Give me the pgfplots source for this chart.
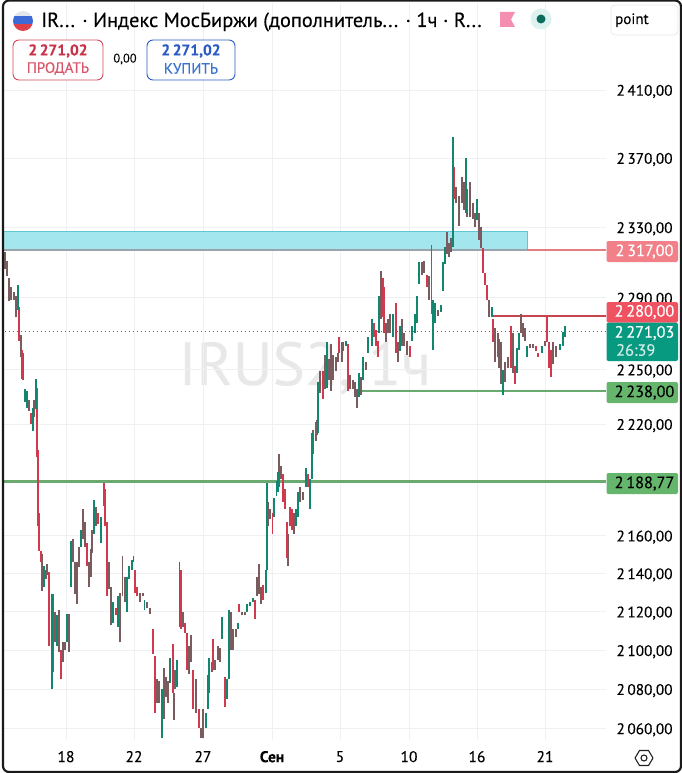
\documentclass[border=0pt]{standalone}
\usepackage{pgfplots}
\usepackage{pgfplotstable}
\usepackage{fontspec}
\pgfplotsset{compat=1.18}
\setmainfont[FakeBold=0.2]{PT Sans}
\newcommand\fs[1]{\fontsize{#1}{#1}\selectfont}
\definecolor{cg}{HTML}{12866F}
\definecolor{cr}{HTML}{CF3A4E}
\definecolor{cb}{HTML}{7A5C5E}
\definecolor{gridc}{HTML}{EEF0F3}
\definecolor{boxf}{HTML}{A4E6EE}
\definecolor{boxd}{HTML}{5FC6D6}
\definecolor{l1}{HTML}{9AA4AD}
\definecolor{l2}{HTML}{E57C82}
\definecolor{l3}{HTML}{C8444F}
\definecolor{l4}{HTML}{6AA96F}
\definecolor{l5}{HTML}{2F7F73}
\definecolor{t1}{HTML}{F28089}
\definecolor{t2}{HTML}{EF5361}
\definecolor{t3}{HTML}{089981}
\definecolor{t4}{HTML}{66B56C}
\definecolor{f1}{HTML}{E1E5EC}
\definecolor{f2}{HTML}{3D6AD6}
\definecolor{f3}{HTML}{E0404A}
\definecolor{pk}{HTML}{F48FB1}
\definecolor{d1}{HTML}{DDF1EE}
\definecolor{d2}{HTML}{0B6B5C}
\definecolor{bx}{HTML}{E6E8EC}
\definecolor{s1}{HTML}{CF4A5C}
\definecolor{s2}{HTML}{C8334A}
\definecolor{s3}{HTML}{D9566A}
\definecolor{b1}{HTML}{2D5BC5}
\definecolor{b2}{HTML}{3A73D0}
\definecolor{ink}{HTML}{222222}
\definecolor{fr}{HTML}{1A1A1A}
\pgfplotstableread{
x lo hi
5 2306 2316
7 2302 2311
9 2288 2301
11 2289 2296
14 2289 2293
16 2279 2291
21 2257 2269
23 2244 2259
29 2227 2233
34 2224 2233
42 2131 2150
46 2137 2142
47 2139 2145
53 2089 2129
55 2104 2120
59 2099 2121
63 2094 2104
65 2100 2104
69 2099 2119
73 2146 2158
75 2129 2146
77 2124 2146
79 2143.5 2154
83 2158 2174
85 2154 2167
89 2133 2146
91 2138 2153
92 2151 2163
96 2165 2175
109 2132 2146
111 2113 2133
120 2104 2130
122.5 2128 2149
125 2125 2138
140 2125 2130
143 2128 2130
147 2122 2125
150 2119 2122
157 2073 2085
159 2073 2084
164 2065 2091
166 2076 2086
168 2073 2084
174 2064 2078
175 2080 2090
183 2112 2120
189 2088 2102
191 2094 2108
196 2068 2085
201 2055 2060
203 2055 2070
212 2089 2094
215 2090 2095
218 2095 2102
220 2094 2101
231 2100 2120
233 2100 2111
236 2107 2111
242 2118 2120
245 2118 2120
257 2128 2138
259 2129 2145
261 2124 2133
268 2165 2178
270 2169 2174
279 2186 2204
281 2190 2197
288 2144 2161
294 2161 2172
300 2178 2186
303 2179 2183
313 2204 2217
316 2211 2221
317 2214 2222
320 2237 2249
325 2239 2258
329 2244 2256
331 2238 2264
333 2244 2258
336 2249 2257
338 2254 2259
342 2254 2265
343 2260 2265
350 2239 2247
353 2239 2244
355 2235 2243
357 2229 2239
361 2236 2246
366 2250 2254
381 2278 2305
386 2265 2276
388 2270 2278
390 2270 2281
398 2254 2265
402 2263 2278
404 2263 2270
407 2258 2266
422 2303 2310
424 2304 2311
429 2289 2302
438 2280 2283
447 2315 2327
449 2313 2321
451 2316 2324
456 2344 2353
459 2331 2348
462 2344 2359
464 2340 2356
467 2336 2352
470 2336 2356
473 2335 2344
475 2330 2338
479 2323 2338
481 2318 2330
489 2279 2289
495 2254 2273
498 2257 2270
499 2251 2267
501 2242 2265
505 2243 2254
508 2251 2257
513 2248 2270
521 2270 2281
523 2268 2276
525 2266 2273
530 2262 2264
533 2262 2264
545 2263 2266
553 2253 2265
556 2257 2263
}\tbrown
\pgfplotstableread{
x lo hi
19 2266 2285
22 2245 2261
31 2220 2226
37 2202 2240
37.7 2179 2206
38.3 2165 2180
39 2152 2172
41 2146 2152
49 2102 2141
61 2085 2100
87 2144 2156
98 2166 2172
104 2176 2188
105 2165 2185
107 2128 2167
116 2118 2122
135 2130 2142
137 2128 2133
153 2098 2111
155 2068 2097
172.7 2078 2103
181 2111 2142
185 2109 2114
187 2090 2109
193 2070 2090
199 2060 2070
213 2090 2106
225 2071 2086
239 2120 2124
255 2116 2126
263 2126 2134
272.5 2161 2172
283 2178 2193
285 2174 2185
287 2148 2167
290 2165 2175
292 2163 2174
308 2186 2193
323 2234 2249
339 2259 2268
348 2238 2264
374 2268 2276
376 2263 2272
378 2257 2266
383 2279 2301
384 2270 2296
396 2259 2287
410 2257 2263
427 2296 2303
431.5 2281 2320
454 2346 2365
483 2304 2318
485 2297 2304
487 2289 2297
493 2265 2278
511 2251 2274
515 2242 2252
536 2260 2263
538 2257 2259
547 2265 2279
549 2251 2265
551 2246 2261
}\tbred
\pgfplotstableread{
x lo hi
18 2283 2297
25 2232 2239
27 2229 2238
33 2216 2229
36 2228 2245
44 2133 2144
52 2080 2129
57 2102 2118
67 2104 2119
71 2133 2157
81 2154 2163
94 2161 2179
101 2156 2170
113 2114 2125
118 2112 2128
127 2120 2138
129 2137 2144
132 2142 2147
133.5 2146 2149
144.5 2121 2126
162 2055 2080
170 2083 2096
177 2081 2095
179.5 2112 2146
206 2060 2068
208 2070 2087
209 2078 2096
222 2106 2117
227 2075 2085
229 2085 2121
238 2111 2114
247 2120 2124
250 2123 2125
253 2125 2127
266 2130 2142
266.7 2142 2166
267 2166 2188
274 2170 2180
276.5 2181 2189
278 2183 2194
296 2165 2174
298 2170 2183
306 2186 2196
310 2174 2190
312 2190 2215
318 2215 2243
327 2240 2265
346 2263 2266
359 2235 2248
363 2244 2257
368 2259 2268
372 2263 2278
379 2270 2291
393 2268 2281
400 2260 2274
412 2266 2274
415 2270 2281
417 2276 2291
419 2298 2310
433 2261 2289
435 2276 2287
441 2282 2286
443 2294 2310
445 2309 2319
453 2319 2382.5
466 2338 2370
477 2334 2346
492 2279 2285
503 2236 2250
517 2248 2262
519 2261 2270
527 2257 2263
542 2259 2263
560 2261 2264
563 2263 2271
565 2268 2274
}\tgreen
% one vertical high-low segment per row of a table, with a jump between rows
\newcommand\buildstream[2]{%
  \gdef#2{}%
  \pgfplotstablegetrowsof{#1}\pgfmathtruncatemacro\lastrow{\pgfplotsretval-1}%
  \pgfplotsforeachungrouped \i in {0,...,\lastrow}{%
    \pgfplotstablegetelem{\i}{x}\of{#1}\let\vx\pgfplotsretval
    \pgfplotstablegetelem{\i}{lo}\of{#1}\let\vlo\pgfplotsretval
    \pgfplotstablegetelem{\i}{hi}\of{#1}\let\vhi\pgfplotsretval
    \xdef#2{#2(\vx,\vlo)(\vx,\vhi)(\vx,nan)}%
  }}
\buildstream{\tbrown}{\sbrown}
\buildstream{\tbred}{\sred}
\buildstream{\tgreen}{\sgreen}
\newcommand\plotstream[2]{\edef\temp{\noexpand\addplot[#1,line width=1.9pt,unbounded coords=jump,forget plot] coordinates {#2};}\temp}
\def\nanword{nan}
\begin{document}
\begin{tikzpicture}
\useasboundingbox (0pt,0pt) rectangle (682pt,-773pt);
\node[text=black!9,font=\fs{61}] at (305pt,-368pt) {IRUS2, 1ч};
\begin{axis}[
  at={(3pt,-740pt)},anchor=south west,
  scale only axis,width=603pt,height=737pt,
  xmin=3,xmax=606,ymin=2054.44,ymax=2462.06,
  % the price scale of the reference is logarithmic
  y coord trafo/.code={\edef\ytmp{#1}\ifx\ytmp\nanword\def\pgfmathresult{nan}\else\pgfmathparse{1000*ln(#1/2060)}\fi},
  axis line style={draw=none},
  tick style={draw=none},
  grid=major,grid style={gridc,line width=0.8pt},
  xtick={66,134,203,272,340,409,477,545},
  xticklabels={18,22,27,\textbf{Сен},5,10,16,21},
  xticklabel style={font=\fs{15.5},yshift=-7.5pt},
  ytick={2060,2080,2100,2120,2140,2160,2220,2250,2290,2330,2370,2410},
  yticklabels={{2\,060,00},{2\,080,00},{2\,100,00},{2\,120,00},{2\,140,00},{2\,160,00},{2\,220,00},{2\,250,00},{2\,290,00},{2\,330,00},{2\,370,00},{2\,410,00}},
  yticklabel pos=right,
  yticklabel style={font=\fs{15.3},anchor=west,xshift=7pt,yshift=-1.5pt},
  clip=true,
]
\addplot[fill=boxf,draw=boxd,line width=0.8pt,forget plot] coordinates {(3,2317)(527,2317)(527,2327.4)(3,2327.4)} -- cycle;
\addplot[l1,line width=2pt] coordinates {(3,2317)(527,2317)};
\addplot[l2,line width=2pt] coordinates {(527,2317)(606,2317)};
\addplot[l3,line width=2pt] coordinates {(492,2280)(606,2280)};
\addplot[l4,line width=2pt] coordinates {(358,2238)(606,2238)};
\addplot[l4,line width=2.5pt] coordinates {(3,2188.77)(606,2188.77)};
\addplot[l5,line width=0.8pt,dash pattern=on 1pt off 3pt] coordinates {(5,2271.03)(606,2271.03)};
\plotstream{cb}{\sbrown}
\plotstream{cr}{\sred}
\plotstream{cg}{\sgreen}
\end{axis}
\begin{scope}[x=1pt,y=-1pt]
% price tags
\fill[t1,rounded corners=2pt] (606.5,241) rectangle (678,262);
\fill[t2,rounded corners=2pt] (606.5,302) rectangle (678,322.5);
\fill[t3,rounded corners=2pt] (606.5,322.5) rectangle (678,361);
\fill[t4,rounded corners=2pt] (606.5,382) rectangle (678,403);
\fill[t4,rounded corners=2pt] (606.5,473) rectangle (678,494);
\node[text=white,font=\fs{16.3}] at (644.5,251.5) {2\,317,00};
\node[text=white,font=\fs{16.3}] at (644.5,312) {2\,280,00};
\node[text=white,font=\fs{16.3}] at (644.5,333) {2\,271,03};
\node[text=white!80!t3,font=\fs{16.3},anchor=west,inner sep=0] at (616,350) {26:39};
\node[text=black,font=\fs{16.3}] at (644.5,392.5) {2\,238,00};
\node[text=black,font=\fs{16.3}] at (644.5,483.5) {2\,188,77};
% header
\begin{scope}
\clip (23,21) circle (10);
\fill[f1] (12,10) rectangle (34,16);
\fill[f2] (12,16) rectangle (34,24);
\fill[f3] (12,24) rectangle (34,32);
\end{scope}
\node[anchor=base west,font=\fs{20.4},inner sep=0] at (41,27) {IR... · Индекс МосБиржи (дополнитель... · 1ч · R...};
\fill[pk] (500,12) -- (515,12) -- (511,19.5) -- (515,27) -- (500,27) -- cycle;
\fill[d1] (541,19) circle (10.5);
\fill[d2] (541,19) circle (4.5);
\draw[bx,fill=white,rounded corners=4pt,line width=0.8pt] (611,5) rectangle (678,35);
\node[anchor=base west,font=\fs{15},inner sep=0] at (615,24) {point};
\draw[s1,fill=white,rounded corners=6pt,line width=0.9pt] (13,40) rectangle (103,80);
\node[text=s2,font=\fs{15.5}\bfseries] at (58,51) {2\,271,02};
\node[text=s3,font=\fs{15}] at (58,68.5) {ПРОДАТЬ};
\node[font=\fs{12.5}] at (125,59) {0,00};
\draw[b1,fill=white,rounded corners=6pt,line width=0.9pt] (147,40) rectangle (235,80);
\node[text=b1,font=\fs{15.5}\bfseries] at (191,51) {2\,271,02};
\node[text=b2,font=\fs{15}] at (191,68.5) {КУПИТЬ};
% hexagon icon
\draw[ink,line width=1.1pt,line join=round] (635,758)--(639.5,750.5)--(648.5,750.5)--(653,758)--(648.5,765.5)--(639.5,765.5)--cycle;
\draw[ink,line width=1.1pt] (644,758) circle (3);
% frame
\draw[fr,line width=2.2pt,rounded corners=6pt] (3,0.5) rectangle (681,772);
\end{scope}
\end{tikzpicture}
\end{document}
